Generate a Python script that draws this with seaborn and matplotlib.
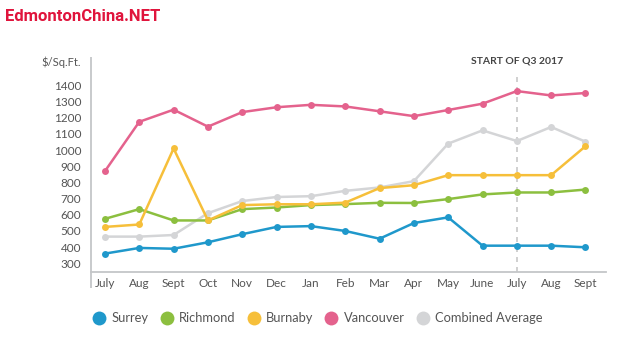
import pandas as pd
import numpy as np
import seaborn as sns
import matplotlib.pyplot as plt
from matplotlib.lines import Line2D

months = ["July", "Aug", "Sept", "Oct", "Nov", "Dec", "Jan", "Feb",
          "Mar", "Apr", "May", "June", "July", "Aug", "Sept"]

surrey = [360, 395, 390, 430, 480, 525, 530, 500, 452, 549, 584, 409, 409, 409, 399]
richmond = [575, 635, 565, 565, 635, 645, 660, 666, 674, 673, 697, 726, 738, 738, 756]
burnaby = [525, 540, 1010, 565, 660, 665, 665, 675, 765, 783, 845, 845, 845, 845, 1024]
vancouver = [870, 1175, 1250, 1145, 1235, 1265, 1280, 1270, 1240, 1210, 1248, 1287, 1365, 1338, 1353]
combined = [465, 465, 475, 610, 685, 710, 715, 748, 769, 808, 1040, 1122, 1056, 1143, 1052]

series = {
    "Combined Average": combined,
    "Surrey": surrey,
    "Richmond": richmond,
    "Burnaby": burnaby,
    "Vancouver": vancouver,
}
colors = {
    "Surrey": "#1f98cb",
    "Richmond": "#8cbf3f",
    "Burnaby": "#f6bf3a",
    "Vancouver": "#e4628d",
    "Combined Average": "#d4d5d7",
}
legend_order = ["Surrey", "Richmond", "Burnaby", "Vancouver", "Combined Average"]

# long-form table for seaborn
rows = []
for name, vals in series.items():
    for i, v in enumerate(vals):
        rows.append({"idx": i, "value": v, "city": name})
df = pd.DataFrame(rows)

sns.set_style("white")
plt.rcParams["font.family"] = ["Lato", "DejaVu Sans"]

fig = plt.figure(figsize=(6.4, 3.57), dpi=100)
ax = fig.add_axes([0.142, 0.238, 0.805, 0.602])

sns.lineplot(data=df, x="idx", y="value", hue="city", hue_order=list(series.keys()),
             palette=colors, marker="o", markersize=5, markeredgewidth=0,
             linewidth=1.8, legend=False, ax=ax)

ax.set_xlim(-0.41, 14.6)
ax.set_ylim(246, 1575)
ax.vlines(12, 246, 1485, colors="#c8c8c8", linestyles=(0, (3, 3)), linewidth=1.2, zorder=0)
ax.text(12, 1548, "START OF Q3 2017", ha="center", va="center", fontsize=7.5,
        fontweight="bold", color="#444444")

ax.set_xticks(range(len(months)))
ax.set_xticklabels(months)
ax.set_yticks(range(300, 1401, 100))
ax.tick_params(axis="both", length=0, labelsize=8.5, colors="#555555")
ax.tick_params(axis="x", pad=4)
ax.tick_params(axis="y", pad=7)
ax.set_xlabel("")
ax.set_ylabel("")
for s in ["top", "right", "left"]:
    ax.spines[s].set_visible(False)
ax.spines["bottom"].set_color("#c4c6c8")
ax.spines["bottom"].set_linewidth(1.3)
# left axis line runs a little past the bottom axis
ax.plot([0, 0], [-0.075, 1], transform=ax.transAxes, color="#c4c6c8",
        linewidth=1.3, clip_on=False, solid_capstyle="butt")

fig.text(0.126, 0.826, "$/Sq.Ft.", ha="right", va="center", fontsize=8, color="#555555")
fig.text(0.008, 0.955, "EdmontonChina.NET", ha="left", va="center", fontsize=12,
         fontweight="bold", color="#e0143c", family=["Liberation Sans Narrow", "Roboto"])

handles = [Line2D([], [], marker="o", linestyle="", markersize=10,
                  markerfacecolor=colors[n], markeredgewidth=0) for n in legend_order]
fig.legend(handles, legend_order, loc="center left", bbox_to_anchor=(0.125, 0.108),
           ncol=5, frameon=False, fontsize=9.3, handletextpad=0.35, columnspacing=0.8,
           handlelength=1.2, labelcolor="#555555")

fig.savefig("out.png", dpi=100)
